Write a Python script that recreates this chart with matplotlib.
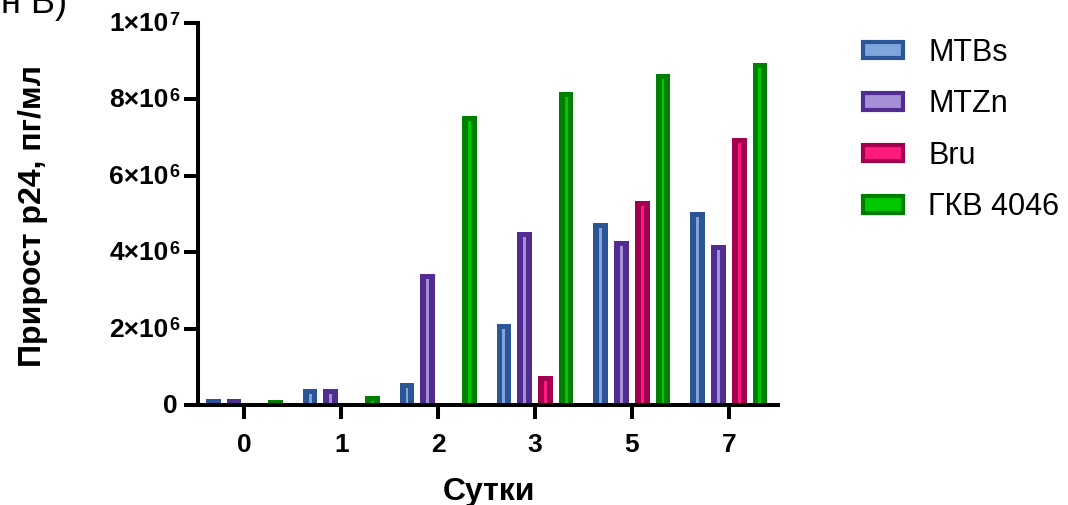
import numpy as np
import matplotlib
matplotlib.use('Agg')
import matplotlib.pyplot as plt
from matplotlib.patches import Patch

plt.rcParams['font.family'] = ['Liberation Sans', 'DejaVu Sans']

days = ['0', '1', '2', '3', '5', '7']
series = ['MTBs', 'MTZn', 'Bru', 'ГКВ 4046']
mtbs = [1.6e5, 4.1e5, 5.8e5, 2.13e6, 4.77e6, 5.05e6]
mtzn = [1.7e5, 4.2e5, 3.44e6, 4.52e6, 4.30e6, 4.20e6]
bru = [np.nan, np.nan, np.nan, 7.6e5, 5.33e6, 6.98e6]
gkv = [1.2e5, 2.3e5, 7.57e6, 8.20e6, 8.66e6, 8.96e6]
yticks = [0, 2e6, 4e6, 6e6, 8e6, 1e7]
ytick_base = ['0', '2×10', '4×10', '6×10', '8×10', '1×10']
ytick_exp = ['', '6', '6', '6', '6', '7']

dark = ['#2a5596', '#512d91', '#a3004f', '#008000']
light = ['#7fa6db', '#a68fd6', '#ff1a80', '#00c800']

fig = plt.figure(figsize=(10.68, 5.05), dpi=100)
ax = fig.add_axes([198 / 1068, 1 - 405 / 505, 580 / 1068, 382 / 505])
ax.set_ylim(0, 1e7)
ax.set_xlim(-0.478, 5.508)

x = np.arange(len(days))
width = 0.152
stripe = 0.03
# dark cap on top of each bar, ~5 px in data units
cap = 5 * 1e7 / 382

for i, vals in enumerate([mtbs, mtzn, bru, gkv]):
    pos = x + (i - 1.5) * 0.214
    vals = np.array(vals)
    ax.bar(pos, vals, width, color=dark[i], linewidth=0)
    inner = np.where(vals > cap, vals - cap, np.nan)
    ax.bar(pos, inner, stripe, color=light[i], linewidth=0)

for s in ['top', 'right']:
    ax.spines[s].set_visible(False)
for s in ['left', 'bottom']:
    ax.spines[s].set_linewidth(2.9)

ax.set_xticks(x)
ax.set_xticklabels(days, fontsize=19, fontweight='bold')
ax.tick_params(axis='x', length=10, width=2.9, pad=10)

# y tick labels with a raised exponent, drawn as two texts
ax.set_yticks(yticks)
ax.set_yticklabels([])
ax.tick_params(axis='y', length=10, width=2.9)
ytr = ax.get_yaxis_transform()
for v, base, e in zip(yticks, ytick_base, ytick_exp):
    if e:
        ax.annotate(e, (0, v), xycoords=ytr, xytext=(-13.5, -1.2), textcoords='offset points',
                    fontsize=13, fontweight='bold', ha='right', va='baseline',
                    annotation_clip=False)
        right = -21.3
    else:
        right = -15
    ax.annotate(base, (0, v), xycoords=ytr, xytext=(right, -5.8), textcoords='offset points',
                fontsize=19, fontweight='bold', ha='right', va='baseline',
                annotation_clip=False)

fig.text(489 / 1068, 1 - 500 / 505, 'Сутки', fontsize=23, fontweight='bold',
         ha='center', va='baseline')
fig.text(33 / 1068, 1 - 216 / 505, 'Прирост р24, пг/мл', fontsize=23,
         fontweight='bold', rotation=90, ha='center', va='center')

handles = [Patch(facecolor=light[i], edgecolor=dark[i], linewidth=3, label=series[i])
           for i in range(4)]
fig.legend(handles=handles, loc='upper left', bbox_to_anchor=(863 / 1068, 1 - 38 / 505),
           frameon=False, fontsize=22, handlelength=1.31, handleheight=0.46,
           handletextpad=0.82, labelspacing=0.7, borderpad=0, borderaxespad=0)

fig.text(0.001, 1 - 13 / 505, 'н В)', fontsize=26, va='baseline', ha='left')

fig.savefig('out.png', dpi=100)
